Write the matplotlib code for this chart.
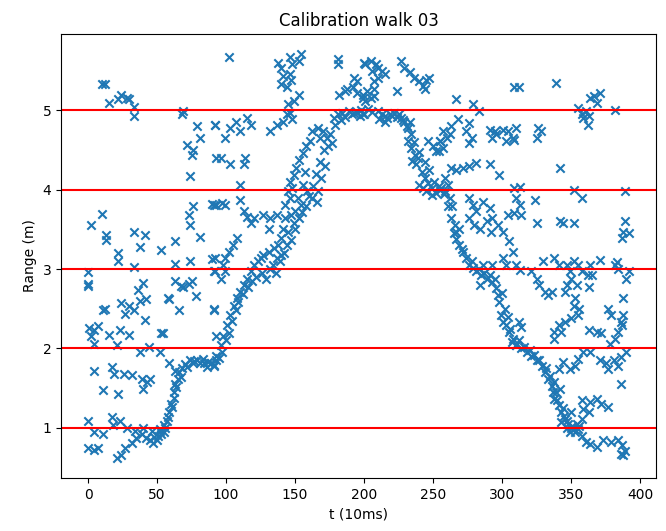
"""
Calibration walk 03 — range readings vs. time with 1 m reference lines.
"""

import matplotlib
matplotlib.use("Agg")
import matplotlib.pyplot as plt
import numpy as np

# ── Readings (t in 10 ms steps, range in m), grouped by time window ──────────

seg_000_095 = [
    (0, 2.96), (0, 2.81), (0, 2.79), (22, 3.10), (33, 3.02), (63, 3.06), (74, 3.10), (90, 3.13),
    (40, 2.83), (36, 2.74), (42, 2.62), (11, 2.49), (12, 2.50), (24, 2.57), (30, 2.53), (27, 2.43),
    (33, 2.49), (38, 2.60), (41, 2.36), (1, 2.26), (4, 2.23), (7, 2.28), (2, 2.15), (15, 2.17),
    (4, 2.06), (23, 2.23), (30, 2.17), (21, 2.04), (38, 1.96), (44, 2.02), (52, 1.96), (53, 2.19),
    (54, 2.20), (59, 2.62), (63, 2.85), (67, 2.79), (69, 2.77), (73, 2.81), (75, 2.85), (78, 2.66),
    (66, 2.49), (58, 2.64), (91, 2.49), (93, 2.15), (4, 1.72), (17, 1.77), (19, 1.68), (26, 1.68),
    (32, 1.66), (39, 1.62), (43, 1.57), (45, 1.62), (40, 1.49), (11, 1.47), (22, 1.43),
    (59, 1.81), (63, 1.72), (67, 1.64), (64, 1.51), (62, 1.38), (61, 1.26), (58, 1.13), (55, 1.04),
    (52, 0.98), (74, 1.85), (79, 1.85), (84, 1.81), (89, 1.81), (93, 1.85), (72, 1.77), (76, 1.81),
    (86, 1.77), (91, 1.79), (0, 1.09), (4, 0.94), (11, 0.92), (17, 1.13), (18, 1.04), (23, 1.09),
    (28, 1.00), (0, 0.75), (4, 0.72), (7, 0.75), (21, 0.62), (24, 0.66), (27, 0.75), (32, 0.81),
    (35, 0.87), (39, 0.92), (42, 0.87), (45, 0.85), (47, 0.81), (50, 0.85), (52, 0.96), (46, 0.96),
    (40, 1.00), (34, 0.96), (10, 5.33), (12, 5.33), (15, 5.10), (22, 5.14), (24, 5.20), (28, 5.16),
    (30, 5.14), (33, 5.05), (33, 4.93), (68, 4.95), (69, 4.99), (79, 4.80), (81, 4.65), (72, 4.57),
    (75, 4.44), (74, 4.17), (92, 4.82), (93, 4.40), (76, 4.50), (91, 3.81), (90, 3.82),
    (2, 3.55), (10, 3.70), (13, 3.43), (13, 3.37), (33, 3.47), (41, 3.43), (38, 3.28), (22, 3.20),
    (53, 3.24), (63, 3.35), (73, 3.68), (76, 3.79), (81, 3.41), (74, 3.55),
]

seg_090_147 = [
    (102, 5.67), (138, 5.60), (140, 5.54), (141, 5.43), (140, 5.33),
    (92, 4.82), (103, 4.78), (107, 4.86), (110, 4.74), (115, 4.91), (118, 4.82), (99, 4.65),
    (96, 4.40), (103, 4.32), (113, 4.32), (114, 4.40), (132, 4.74), (137, 4.82), (141, 4.86),
    (145, 5.08), (144, 4.95), (110, 4.06), (93, 3.81), (97, 3.83), (99, 3.81),
    (110, 3.87), (115, 3.66), (113, 3.73), (118, 3.58), (120, 3.65), (127, 3.68), (132, 3.64),
    (131, 3.51), (137, 3.68), (141, 3.51), (140, 3.39), (138, 3.30), (108, 3.39), (105, 3.30),
    (102, 3.22), (99, 3.14), (98, 3.05), (92, 3.14), (91, 2.97),
    (91, 1.78), (93, 1.91), (96, 2.04), (98, 2.16), (101, 2.29), (103, 2.42), (106, 2.54),
    (108, 2.63), (110, 2.71), (113, 2.80), (115, 2.88), (118, 2.97), (120, 3.05), (123, 3.10),
    (125, 3.14), (127, 3.18), (131, 3.22), (135, 3.26), (137, 3.14), (140, 3.18),
    (91, 2.50), (92, 2.97), (96, 2.88), (99, 2.97),
]

seg_143_200 = [
    (154, 5.71), (153, 5.62), (146, 5.67), (148, 5.58), (146, 5.46), (147, 5.39), (144, 5.30),
    (153, 5.20), (149, 5.12), (146, 4.97), (148, 4.89), (181, 5.65), (181, 5.58), (193, 5.41),
    (195, 5.37), (200, 5.60), (182, 5.20), (186, 5.24), (188, 5.27), (192, 5.29), (195, 5.22),
    (199, 5.16), (178, 4.91), (181, 4.95), (184, 4.97), (189, 4.99), (193, 4.97), (197, 4.93),
    (200, 4.95), (167, 4.78), (170, 4.74), (173, 4.65), (177, 4.59), (174, 4.55), (168, 4.65),
    (162, 4.74), (161, 4.61), (158, 4.55), (156, 4.46), (153, 4.38), (151, 4.27), (149, 4.19),
    (146, 4.10), (145, 3.98), (143, 3.81), (143, 3.64), (145, 3.47), (147, 3.37),
    (157, 4.23), (156, 4.06), (159, 3.98), (162, 3.89), (167, 3.98), (169, 4.15), (172, 4.30),
    (166, 3.85), (148, 4.02), (152, 3.89), (154, 3.81), (150, 3.73), (147, 3.68), (149, 3.58),
    (146, 3.89),
]

seg_199_255 = [
    (201, 5.58), (205, 5.62), (209, 5.58), (206, 5.50), (210, 5.54), (213, 5.50), (215, 5.46),
    (210, 5.41), (207, 5.37), (199, 5.20), (202, 5.24), (207, 5.27), (201, 5.12), (205, 5.16),
    (207, 5.18), (199, 4.95), (224, 5.24), (227, 5.62), (229, 5.54), (233, 5.48), (236, 5.41),
    (240, 5.37), (245, 5.39), (247, 5.41), (243, 5.31), (244, 5.27),
    (210, 4.99), (213, 4.95), (215, 4.93), (217, 4.91), (220, 4.93), (222, 4.97), (225, 4.95),
    (227, 4.91), (229, 4.86), (232, 4.78), (233, 4.86), (215, 4.86), (211, 4.89),
    (232, 4.61), (234, 4.53), (237, 4.44), (235, 4.36), (239, 4.40), (238, 4.32), (242, 4.23),
    (244, 4.15), (246, 4.08), (249, 4.02), (246, 4.61), (250, 4.55), (252, 4.49), (255, 4.61),
    (240, 4.06), (243, 4.02), (245, 3.98), (249, 3.94), (252, 3.96), (255, 4.00),
]

seg_253_310 = [
    (309, 5.29), (267, 5.14), (279, 5.08), (283, 4.99), (268, 4.89), (276, 4.84), (274, 4.74),
    (278, 4.65), (276, 4.59), (263, 4.80), (257, 4.74), (260, 4.65), (255, 4.61), (262, 4.70),
    (257, 4.53), (254, 4.49), (291, 4.76), (295, 4.74), (293, 4.65), (296, 4.70), (301, 4.76),
    (304, 4.74), (308, 4.65), (303, 4.61), (291, 4.32), (298, 4.19), (263, 4.27), (267, 4.25),
    (272, 4.27), (276, 4.30), (281, 4.34), (259, 4.15), (256, 4.02), (259, 3.98), (262, 3.89),
    (264, 3.79), (261, 4.06), (266, 3.56), (267, 3.47), (269, 3.51),
    (276, 3.89), (279, 3.81), (281, 3.73), (276, 3.64), (280, 3.56), (284, 3.51), (286, 3.85),
    (291, 3.77), (293, 3.64), (297, 3.56), (289, 3.60), (292, 3.47), (301, 3.47), (305, 3.35),
    (304, 3.68), (269, 3.30), (272, 3.22), (274, 3.14), (276, 3.05), (279, 3.01), (281, 2.97),
    (285, 2.93), (289, 2.88), (291, 2.93), (293, 2.84), (296, 2.76), (297, 2.67), (298, 2.59),
    (299, 2.42), (301, 2.33), (303, 2.29), (305, 2.21), (308, 2.12), (310, 2.04), (284, 2.80),
    (286, 3.05), (293, 3.05), (301, 3.14), (303, 3.05),
]

seg_307_362 = [
    (312, 5.29), (339, 5.35), (355, 5.03), (359, 4.91), (362, 4.82), (358, 4.95), (361, 4.99),
    (310, 4.78), (309, 4.63), (326, 4.78), (325, 4.65), (328, 4.74), (342, 4.27),
    (309, 4.02), (313, 4.04), (310, 3.89), (313, 3.81), (309, 3.71), (314, 3.68), (324, 3.87),
    (325, 3.58), (342, 3.60), (344, 3.58), (352, 3.58), (352, 4.00), (358, 3.89),
    (308, 3.22), (310, 3.05), (313, 2.99), (321, 2.97), (325, 2.88), (327, 2.80), (331, 2.71),
    (333, 2.67), (336, 2.71), (330, 3.10), (338, 3.14), (341, 3.05), (347, 3.05), (349, 2.97),
    (352, 3.10), (355, 3.05), (358, 2.97), (362, 2.92), (350, 2.88), (347, 2.80), (354, 2.80),
    (346, 2.71), (353, 2.63), (352, 2.54), (356, 2.50), (355, 2.42), (350, 2.38), (346, 2.33),
    (341, 2.29), (338, 2.21), (343, 2.21), (338, 2.12), (312, 2.33), (314, 2.27),
    (307, 2.08), (310, 2.04), (314, 2.00), (318, 1.96), (321, 1.91), (325, 1.85), (329, 1.78),
    (331, 1.70), (333, 1.62), (336, 1.53), (337, 1.45), (338, 1.36), (341, 1.28), (343, 1.20),
    (346, 1.11), (348, 1.05), (350, 1.00), (354, 1.05), (358, 1.11), (343, 1.07), (347, 0.99),
    (349, 0.95), (358, 0.90), (361, 0.82), (341, 1.74), (344, 1.83), (349, 1.74), (353, 1.78),
    (355, 1.87), (359, 1.96), (338, 1.57), (342, 1.49), (358, 1.35), (350, 1.20), (359, 1.24),
]

seg_362_392 = [
    (364, 5.16), (367, 5.18), (371, 5.22), (369, 5.10), (363, 4.93), (382, 5.01), (389, 3.98),
    (389, 3.60), (388, 3.47), (392, 3.45), (387, 3.39), (371, 3.11), (383, 3.09), (382, 3.05),
    (384, 3.00), (392, 2.97), (390, 2.88), (364, 3.05), (365, 2.93), (363, 2.78), (388, 2.63),
    (377, 2.50), (379, 2.42), (388, 2.42), (386, 2.33), (387, 2.29), (384, 2.21), (382, 2.12),
    (378, 2.06), (372, 2.19), (369, 2.21), (363, 2.23), (364, 1.96), (371, 1.85), (375, 1.81),
    (381, 1.85), (386, 1.89), (390, 1.96), (384, 1.78), (377, 1.74), (386, 1.55),
    (364, 1.32), (369, 1.36), (372, 1.30), (377, 1.26), (363, 1.20),
    (364, 0.80), (369, 0.76), (373, 0.84), (379, 0.82), (384, 0.84), (387, 0.78), (389, 0.71),
    (388, 0.65), (386, 0.67),
]

# extra readings along the thick main walk band
seg_walk_band = [
    (48, 0.88), (51, 0.90), (53, 0.92), (55, 0.95), (56, 1.00), (57, 1.08), (59, 1.20),
    (60, 1.30), (62, 1.45), (63, 1.55), (65, 1.62), (66, 1.70), (68, 1.75), (70, 1.80),
    (77, 1.84), (81, 1.82), (83, 1.86), (87, 1.83), (95, 1.88), (97, 1.95), (100, 2.10),
    (102, 2.20), (104, 2.35), (107, 2.48), (109, 2.58), (112, 2.68), (116, 2.78), (119, 2.85),
    (122, 2.90), (126, 2.95), (129, 2.88), (132, 3.00), (134, 3.05), (136, 2.95), (139, 3.10),
    (142, 3.20), (144, 3.30), (150, 3.50), (153, 3.65), (155, 3.72), (158, 3.80), (160, 3.92),
    (163, 4.05), (165, 4.20), (168, 4.35), (171, 4.50), (175, 4.70), (179, 4.82), (183, 4.88),
    (186, 4.92), (191, 4.95), (195, 4.98), (198, 5.00), (203, 5.02), (206, 4.98), (219, 4.96),
    (224, 4.92), (228, 4.88), (231, 4.80), (234, 4.70), (236, 4.60), (240, 4.48), (244, 4.35),
    (247, 4.25), (251, 4.10), (254, 4.05), (258, 3.95), (261, 3.80), (263, 3.65), (265, 3.45),
    (267, 3.38), (271, 3.25), (278, 3.10), (283, 3.00), (287, 2.95), (295, 2.88), (300, 2.70),
    (302, 2.50), (304, 2.40), (306, 2.25), (312, 2.10), (316, 2.02), (320, 1.98), (323, 1.92),
    (327, 1.85), (332, 1.75), (335, 1.65), (339, 1.45), (340, 1.35), (344, 1.25), (345, 1.15),
    (347, 1.08), (351, 1.02), (352, 0.98), (353, 0.95), (355, 0.98), (356, 1.02),
]

ref_ranges = [1, 2, 3, 4, 5]
x_ticks = [0, 50, 100, 150, 200, 250, 300, 350, 400]

# ── Plot ──────────────────────────────────────────────────────────────────────

pts = np.array(seg_000_095 + seg_090_147 + seg_143_200 + seg_199_255
               + seg_253_310 + seg_307_362 + seg_362_392 + seg_walk_band)

fig = plt.figure(figsize=(6.66, 5.31), dpi=100)
ax = fig.add_axes([0.0916, 0.0998, 0.8934, 0.8362])

ax.scatter(pts[:, 0], pts[:, 1], marker="x", color="#1f77b4")
for r in ref_ranges:
    ax.axhline(r, color="red", linewidth=1.5)

ax.set_xticks(x_ticks)
ax.set_yticks(ref_ranges)
ax.set_xlabel("t (10ms)")
ax.set_ylabel("Range (m)")
ax.set_title("Calibration walk 03")

fig.savefig("out.png", dpi=100)
